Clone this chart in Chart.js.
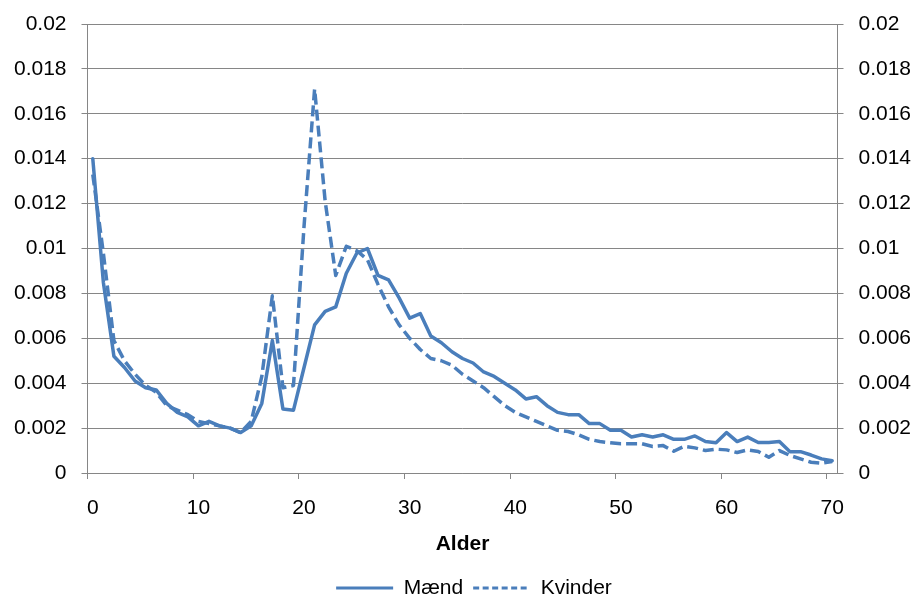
<!DOCTYPE html>
<html>
<head>
<meta charset="utf-8">
<script src="https://cdn.jsdelivr.net/npm/chart.js@4.4.0/dist/chart.umd.min.js"></script>
<style>
  body { margin: 0; background: #fff; }
</style>
</head>
<body>
<canvas id="chart" width="916" height="599"></canvas>
<script>
// ages 0-70 (categories on x axis)
var ages = [0, 1, 2, 3, 4, 5, 6, 7, 8, 9,
  10, 11, 12, 13, 14, 15, 16, 17, 18, 19,
  20, 21, 22, 23, 24, 25, 26, 27, 28, 29,
  30, 31, 32, 33, 34, 35, 36, 37, 38, 39,
  40, 41, 42, 43, 44, 45, 46, 47, 48, 49,
  50, 51, 52, 53, 54, 55, 56, 57, 58, 59,
  60, 61, 62, 63, 64, 65, 66, 67, 68, 69, 70];

var maend = [0.0140, 0.0085, 0.0052, 0.0047, 0.0041, 0.0038, 0.0037, 0.0031, 0.0027, 0.0025,
  0.0021, 0.0023, 0.0021, 0.0020, 0.0018, 0.0021, 0.0031, 0.0059, 0.00285, 0.0028,
  0.0047, 0.0066, 0.0072, 0.0074, 0.0089, 0.0098, 0.0100, 0.0088, 0.0086, 0.0078,
  0.0069, 0.0071, 0.0061, 0.0058, 0.0054, 0.0051, 0.0049, 0.0045, 0.0043, 0.0040,
  0.0037, 0.0033, 0.0034, 0.0030, 0.0027, 0.0026, 0.0026, 0.0022, 0.0022, 0.0019,
  0.0019, 0.0016, 0.0017, 0.0016, 0.0017, 0.0015, 0.0015, 0.00165, 0.0014, 0.00135,
  0.0018, 0.0014, 0.0016, 0.00136, 0.00136, 0.0014, 0.00095, 0.00095, 0.0008, 0.00063, 0.00055];

var kvinder = [0.0133, 0.0098, 0.0059, 0.0050, 0.0044, 0.0039, 0.0036, 0.0030, 0.0028, 0.0026,
  0.0023, 0.0022, 0.0021, 0.0020, 0.0018, 0.0023, 0.0043, 0.0079, 0.0038, 0.0039,
  0.0110, 0.0171, 0.0121, 0.0088, 0.0101, 0.0099, 0.0095, 0.0084, 0.0074, 0.0066,
  0.0060, 0.0055, 0.0051, 0.0050, 0.0048, 0.0044, 0.0041, 0.0038, 0.0034, 0.0030,
  0.0027, 0.0025, 0.0023, 0.0021, 0.0019, 0.00185, 0.0017, 0.0015, 0.0014, 0.00135,
  0.0013, 0.0013, 0.0013, 0.00118, 0.00122, 0.00097, 0.00119, 0.00112, 0.0010, 0.00106,
  0.00103, 0.00091, 0.00103, 0.00096, 0.0007, 0.0010, 0.00078, 0.00063, 0.00048, 0.00044, 0.00051];

var seriesNames = ["Mænd", "Kvinder"];
var xTickStep = 10;
var yMin = 0, yMax = 0.02, yStep = 0.002;

var blue = "#4a7ebb";
var grey = "#868686";
var font = "'Liberation Sans', Arial, sans-serif";

function fmt(v) {
  return String(Number(v.toFixed(4)));
}

var yScale = function (side, width) {
  return {
    type: "linear",
    position: side,
    min: yMin,
    max: yMax,
    afterFit: function (s) { s.width = width; },
    ticks: {
      stepSize: yStep,
      padding: 15,
      color: "#000",
      // small lineHeight so the top label doesn't push the plot down
      font: { family: font, size: 21, lineHeight: 0.85 },
      callback: function (v) { return fmt(v); }
    },
    grid: {
      color: grey,
      lineWidth: 1,
      tickLength: 6,
      drawOnChartArea: side === "left"
    },
    border: { color: grey, width: 1 }
  };
};

// nudge the legend a bit right, like the original
var legendShift = {
  id: "legendShift",
  afterLayout: function (chart) {
    chart.legend.left += 16;
    chart.legend.right += 16;
  }
};

new Chart(document.getElementById("chart"), {
  type: "line",
  data: {
    labels: ages,
    datasets: [{
      label: seriesNames[0],
      data: maend,
      borderColor: blue,
      backgroundColor: blue,
      borderWidth: 3.5,
      pointRadius: 0,
      tension: 0,
      borderJoinStyle: "round",
      borderCapStyle: "round",
      yAxisID: "y"
    }, {
      label: seriesNames[1],
      data: kvinder,
      borderColor: blue,
      backgroundColor: blue,
      borderWidth: 3.5,
      borderDash: [11, 5],
      pointRadius: 0,
      tension: 0,
      borderJoinStyle: "round",
      yAxisID: "y"
    }]
  },
  options: {
    responsive: false,
    animation: false,
    layout: { padding: { top: 24, left: 0, right: 0, bottom: -9.5 } },
    plugins: {
      tooltip: { enabled: false },
      legend: {
        position: "bottom",
        labels: {
          usePointStyle: true,
          pointStyle: "line",
          pointStyleWidth: 57,
          padding: 10,
          color: "#000",
          font: { family: font, size: 21 },
          generateLabels: function (chart) {
            var items = Chart.defaults.plugins.legend.labels.generateLabels(chart);
            items.forEach(function (it, i) {
              it.pointStyle = "line";
              it.lineWidth = 3;
              it.lineDash = i === 1 ? [6, 3.5] : [];
            });
            return items;
          }
        }
      }
    },
    scales: {
      x: {
        type: "category",
        offset: true,
        afterFit: function (s) { s.height = 94.5; },
        ticks: {
          autoSkip: false,
          maxRotation: 0,
          padding: 17,
          color: "#000",
          font: { family: font, size: 21 },
          callback: function (v, i) { return i % xTickStep === 0 ? String(ages[i]) : ""; }
        },
        grid: {
          offset: true,
          drawOnChartArea: false,
          tickLength: 6,
          color: function (ctx) {
            return (ctx.index !== undefined && ctx.index % xTickStep === 0) ? grey : "rgba(0,0,0,0)";
          }
        },
        border: { color: grey, width: 1 },
        title: {
          display: true,
          text: "Alder",
          color: "#000",
          font: { family: font, size: 21, weight: "bold" },
          padding: { top: 9, bottom: 11 }
        }
      },
      y: yScale("left", 87.5),
      y2: yScale("right", 78.5)
    }
  },
  plugins: [legendShift]
});
</script>
</body>
</html>
